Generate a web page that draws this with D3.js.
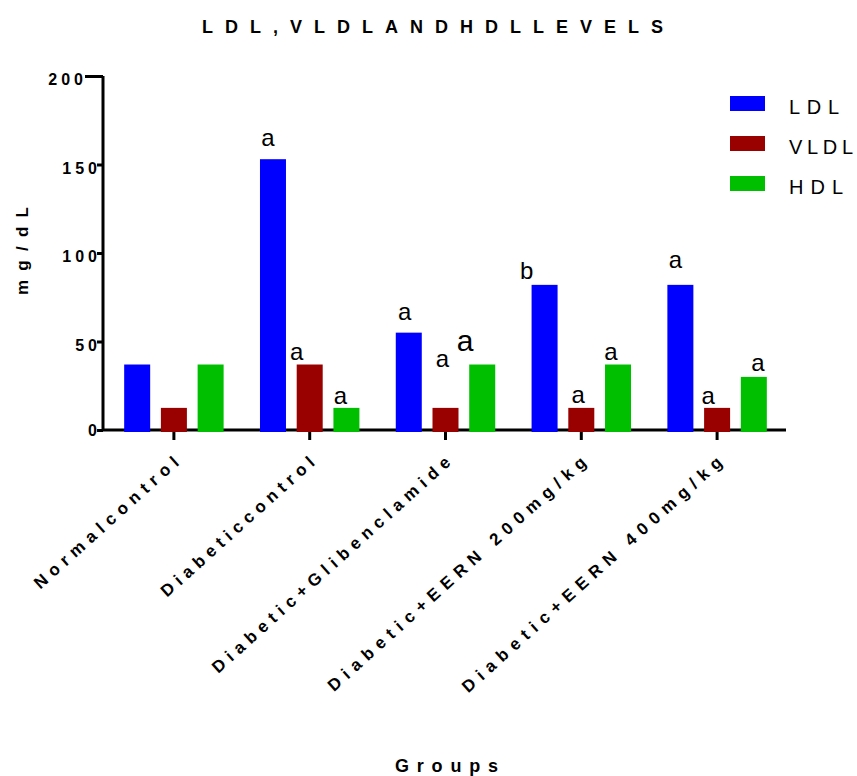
<!DOCTYPE html>
<html>
<head>
<meta charset="utf-8">
<script src="https://cdn.jsdelivr.net/npm/d3@7"></script>
<style>
  body { margin: 0; background: #fff; }
  svg { display: block; }
  text { font-family: "Liberation Sans", Arial, Helvetica, sans-serif; fill: #000; white-space: pre; }
</style>
</head>
<body>
<svg id="chart" width="857" height="776"></svg>
<script>
// ---- data ----
const groups = [
  "Normalcontrol",
  "Diabeticcontrol",
  "Diabetic+Glibenclamide",
  "Diabetic+EERN 200mg/kg",
  "Diabetic+EERN 400mg/kg"
];
const seriesNames = ["LDL", "VLDL", "HDL"];
const ldl  = [37, 153, 55, 82, 82];
const vldl = [12.5, 37, 12.5, 12.5, 12.5];
const hdl  = [37, 12.5, 37, 37, 30];
const ldlLetters  = ["", "a", "a", "b", "a"];
const vldlLetters = ["", "a", "a", "a", "a"];
const hdlLetters  = ["", "a", "a", "a", "a"];
const yTicks = [0, 50, 100, 150, 200];
const seriesColors = ["#0000ff", "#990000", "#00bf00"];

// ---- layout ----
const svg = d3.select("#chart");
const y = d3.scaleLinear().domain([0, 200]).range([430, 76]);
const x0 = d3.scaleBand().domain(groups).range([106, 785]).paddingInner(0).paddingOuter(0);
const x1 = d3.scaleBand().domain(seriesNames).range([0, x0.bandwidth()]).paddingInner(0.292).paddingOuter(0.495);
const color = d3.scaleOrdinal().domain(seriesNames).range(seriesColors);

const valuesBySeries = { LDL: ldl, VLDL: vldl, HDL: hdl };
const lettersBySeries = { LDL: ldlLetters, VLDL: vldlLetters, HDL: hdlLetters };

// small hand nudges for the significance letters: [dx, gap above bar, font size]
const letterNudge = {
  LDL:  [[0, 0, 24], [-5, 13, 24], [-4, 13, 24], [-18, 6, 24], [-5, 17, 24]],
  VLDL: [[0, 0, 24], [-13, 5, 24], [-3, 41, 24], [-3, 5, 24], [-9, 4, 24]],
  HDL:  [[0, 0, 24], [-6, 4, 24], [-17, 14, 30], [-7, 5, 24], [4, 6, 24]]
};

// title
svg.append("text")
  .attr("x", 202).attr("y", 33)
  .attr("textLength", 461).attr("lengthAdjust", "spacing")
  .style("font-size", "18px").style("font-weight", "bold")
  .text("LDL,VLDLANDHDLLEVELS");

// y axis
const yAxis = svg.append("g")
  .attr("transform", "translate(103,0)")
  .call(d3.axisLeft(y).tickValues(yTicks).tickSize(6).tickPadding(0).tickFormat(d3.format("d")));
yAxis.select(".domain").attr("stroke", "#000").attr("stroke-width", 3)
  .attr("d", `M0,${y(200)}V${y(0)}`);
yAxis.selectAll(".tick line").attr("stroke", "#000").attr("stroke-width", 3)
  .attr("x2", d => d === 200 ? -18 : -6);
yAxis.selectAll(".tick text")
  .attr("x", d => d === 200 ? -16 : -2)
  .attr("dy", d => d === 0 ? "0.35em" : "0.55em")
  .style("font-size", "16px").style("font-weight", "bold")
  .style("letter-spacing", "4px")
  .attr("fill", "#000");

// y axis title
svg.append("text")
  .attr("transform", "translate(28,251) rotate(-90)")
  .attr("text-anchor", "middle")
  .attr("textLength", 88).attr("lengthAdjust", "spacing")
  .style("font-size", "17px").style("font-weight", "bold")
  .text("mg/dL");

// x axis line and ticks
svg.append("line")
  .attr("x1", 103).attr("x2", 786)
  .attr("y1", y(0)).attr("y2", y(0))
  .attr("stroke", "#000").attr("stroke-width", 3);
svg.append("g").selectAll("line").data(groups).join("line")
  .attr("x1", d => x0(d) + x0.bandwidth() / 2)
  .attr("x2", d => x0(d) + x0.bandwidth() / 2)
  .attr("y1", y(0)).attr("y2", y(0) + 10)
  .attr("stroke", "#000").attr("stroke-width", 3);

// bars
const groupSel = svg.append("g").selectAll("g").data(groups).join("g")
  .attr("transform", d => `translate(${x0(d)},0)`);

groupSel.selectAll("rect")
  .data((g, gi) => seriesNames.map(s => ({ s, v: valuesBySeries[s][gi] })))
  .join("rect")
  .attr("x", d => x1(d.s))
  .attr("width", x1.bandwidth())
  .attr("y", d => y(d.v))
  .attr("height", d => y(0) - y(d.v) + 2)
  .attr("fill", d => color(d.s));

// significance letters
groupSel.selectAll("text.sig")
  .data((g, gi) => seriesNames.map(s => ({
    s, v: valuesBySeries[s][gi], t: lettersBySeries[s][gi], n: letterNudge[s][gi]
  })).filter(d => d.t))
  .join("text")
  .attr("class", "sig")
  .attr("x", d => x1(d.s) + x1.bandwidth() / 2 + d.n[0])
  .attr("y", d => y(d.v) - d.n[1])
  .attr("text-anchor", "middle")
  .style("font-size", d => d.n[2] + "px")
  .text(d => d.t);

// rotated category labels
const labelLengths = [188, 200, 314, 341, 343];
svg.append("g").selectAll("text").data(groups).join("text")
  .attr("transform", d => `translate(${x0(d) + x0.bandwidth() / 2 + 6},464) rotate(-42)`)
  .attr("text-anchor", "end")
  .attr("textLength", (d, i) => labelLengths[i]).attr("lengthAdjust", "spacing")
  .style("font-size", "17px").style("font-weight", "bold")
  .text(d => d);

// x axis title
svg.append("text")
  .attr("x", 395).attr("y", 772)
  .attr("textLength", 103).attr("lengthAdjust", "spacing")
  .style("font-size", "18px").style("font-weight", "bold")
  .text("Groups");

// legend
const legend = svg.append("g").selectAll("g").data(seriesNames).join("g")
  .attr("transform", (d, i) => `translate(730,${114 + i * 40})`);
legend.append("rect")
  .attr("x", 0).attr("y", -18).attr("width", 35).attr("height", 15)
  .attr("fill", d => color(d));
legend.append("text")
  .attr("x", 59).attr("y", 0)
  .attr("textLength", d => ({ LDL: 50, VLDL: 64, HDL: 54 })[d]).attr("lengthAdjust", "spacing")
  .style("font-size", "20px")
  .text(d => d);
</script>
</body>
</html>
